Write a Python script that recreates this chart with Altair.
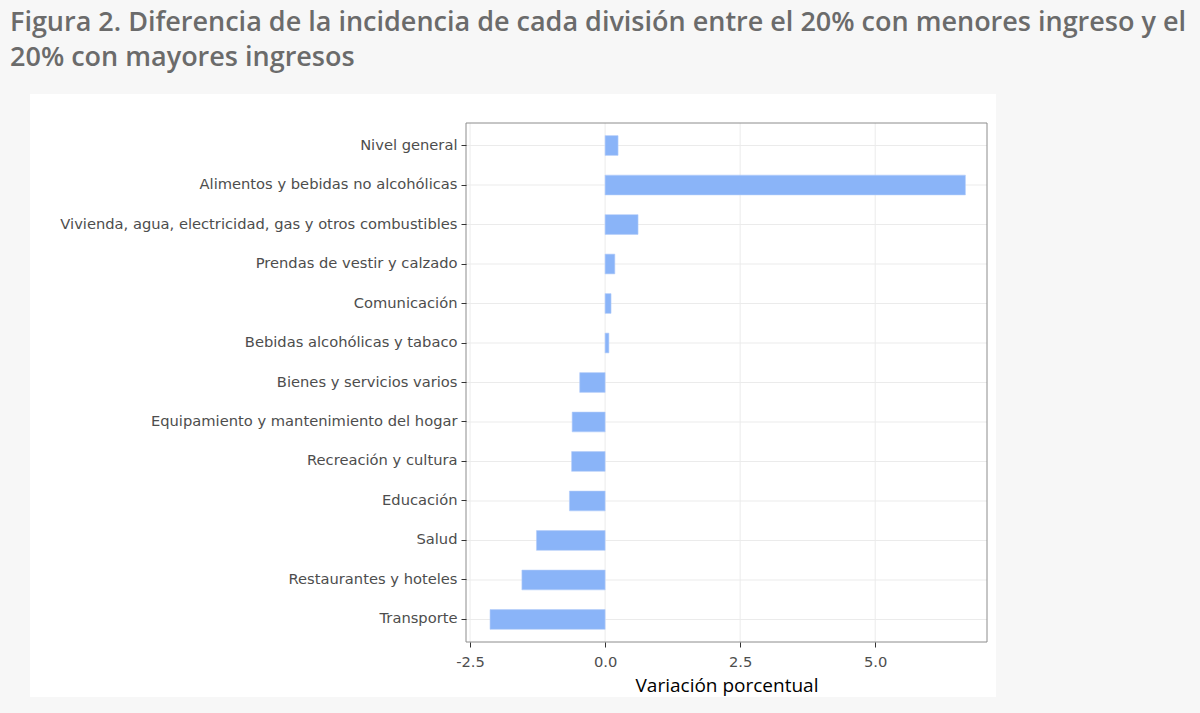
import altair as alt
import pandas as pd

categories = [
    "Nivel general",
    "Alimentos y bebidas no alcohólicas",
    "Vivienda, agua, electricidad, gas y otros combustibles",
    "Prendas de vestir y calzado",
    "Comunicación",
    "Bebidas alcohólicas y tabaco",
    "Bienes y servicios varios",
    "Equipamiento y mantenimiento del hogar",
    "Recreación y cultura",
    "Educación",
    "Salud",
    "Restaurantes y hoteles",
    "Transporte",
]
values = [0.24, 6.67, 0.61, 0.18, 0.11, 0.07, -0.47, -0.61, -0.62, -0.66, -1.27, -1.54, -2.13]
x_ticks = [-2.5, 0.0, 2.5, 5.0]
title_lines = [
    "Figura 2. Diferencia de la incidencia de cada división entre el 20% con menores ingreso y el",
    "20% con mayores ingresos",
]
x_title = "Variación porcentual"

df = pd.DataFrame({"cat": categories, "val": values})
ticks_df = pd.DataFrame({"t": x_ticks})
one = pd.DataFrame({"a": [0]})

W, H = 521, 519
LEFT, TOP = 466, 123

xscale = alt.Scale(domain=[-2.575, 7.07], nice=False, zero=False)
yscale = alt.Scale(paddingInner=0.5, paddingOuter=0.32)

x_axis = alt.Axis(
    values=x_ticks,
    labelExpr="replace(format(datum.value, '.1f'), '\u2212', '-')",
    title=x_title,
    grid=False, domain=False,
    tickColor="#333333", tickSize=5,
    labelFont="DejaVu Sans", labelFontSize=14.7, labelColor="#4d4d4d", labelPadding=7,
    titleFont="Open Sans", titleFontSize=19, titleFontWeight="normal", titleColor="#000000",
    titlePadding=8, zindex=1,
)
y_axis = alt.Axis(
    title=None, grid=False, domain=False,
    tickColor="#333333", tickSize=5,
    labelFont="DejaVu Sans", labelFontSize=14.7, labelColor="#4d4d4d", labelPadding=4,
    labelLimit=600, zindex=1,
)

panel = alt.Chart(one).mark_rect(fill="white").encode(
    x=alt.value(30 - LEFT), x2=alt.value(996 - LEFT),
    y=alt.value(94 - TOP), y2=alt.value(697 - TOP),
)

title_style = dict(align="left", baseline="alphabetic", font="Open Sans", fontSize=27,
                   fontWeight=600, color="#6b6b6b")
t1 = alt.Chart(one).mark_text(**title_style).encode(
    x=alt.value(10 - LEFT), y=alt.value(31 - TOP), text=alt.value(title_lines[0]))
t2 = alt.Chart(one).mark_text(**title_style).encode(
    x=alt.value(10 - LEFT), y=alt.value(66 - TOP), text=alt.value(title_lines[1]))

hgrid = alt.Chart(df).mark_rule(color="#ebebeb", strokeWidth=1).encode(
    y=alt.Y("cat:N", sort=categories, scale=yscale, axis=y_axis),
    x=alt.value(0), x2=alt.value(W),
)
vgrid = alt.Chart(ticks_df).mark_rule(color="#ebebeb", strokeWidth=1).encode(
    x=alt.X("t:Q", scale=xscale, axis=x_axis),
    y=alt.value(0), y2=alt.value(H),
)
bars = alt.Chart(df).mark_bar(color="#8ab4f8", stroke="#b3cdfa", strokeWidth=0.6).encode(
    y=alt.Y("cat:N", sort=categories, scale=yscale, axis=y_axis),
    x=alt.X("val:Q", scale=xscale, axis=x_axis),
)
border = alt.Chart(one).mark_rect(fill="transparent", stroke="#8c8c8c", strokeWidth=1).encode(
    x=alt.value(0), x2=alt.value(W), y=alt.value(0), y2=alt.value(H),
)

chart = alt.layer(panel, t1, t2, hgrid, vgrid, bars, border).properties(
    width=W, height=H,
    autosize=alt.AutoSizeParams(type="none"),
    padding={"left": LEFT, "top": TOP, "right": 1200 - LEFT - W, "bottom": 713 - TOP - H},
    background="#f7f7f7",
).configure_view(stroke=None)

chart.save("out.html", embed_options={"renderer": "svg", "actions": False})
